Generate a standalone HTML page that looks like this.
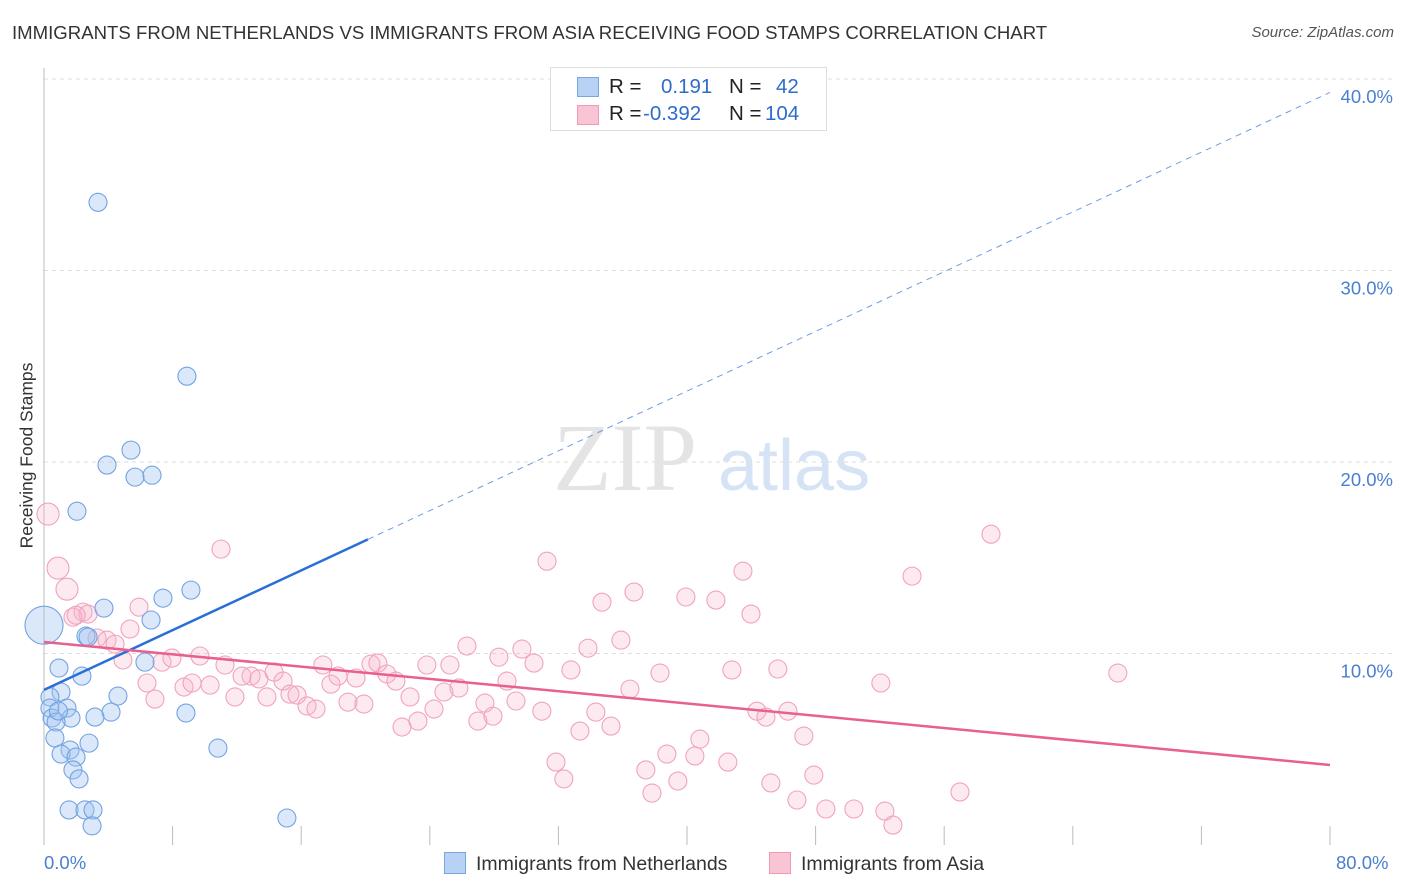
<!DOCTYPE html>
<html><head><meta charset="utf-8">
<style>
body{margin:0;background:#fff;font-family:"Liberation Sans",sans-serif;}
#wrap{position:relative;width:1406px;height:892px;overflow:hidden;}
.title{position:absolute;left:12px;top:22px;font-size:18.6px;color:#333;white-space:nowrap;}
.source{position:absolute;right:12px;top:24px;font-size:15px;color:#555;font-style:italic;}
</style></head><body>
<div id="wrap">
<div class="title">IMMIGRANTS FROM NETHERLANDS VS IMMIGRANTS FROM ASIA RECEIVING FOOD STAMPS CORRELATION CHART</div>
<div class="source">Source: ZipAtlas.com</div>
<svg id="svg" width="1406" height="892" style="position:absolute;left:0;top:0"></svg>
</div>
<script>
const blueX=[3.36,8.89,5.41,3.92,5.66,6.72,2.05,9.14,7.40,3.73,6.66,2.61,2.74,6.28,0.93,2.36,0,1.06,0.37,4.60,4.17,8.83,0.37,1.43,0.5,1.68,3.17,0.75,0.68,2.80,1.62,1.06,1.99,1.80,2.18,10.82,1.56,2.55,3.05,2.99,15.11,0.9];
const blueY=[33.56,24.48,20.62,19.84,19.21,19.31,17.43,13.31,12.89,12.37,11.75,10.91,10.86,9.55,9.24,8.82,11.48,7.99,7.73,7.78,6.94,6.89,7.15,7.15,6.63,6.63,6.68,6.42,5.59,5.32,4.96,4.75,4.59,3.92,3.45,5.06,1.83,1.83,1.83,1.00,1.41,7.0];
const pinkX=[0.25,0.87,1.43,2.43,2.74,1.80,5.91,11.01,3.30,3.92,5.35,4.42,4.91,9.70,7.34,7.96,6.41,6.90,8.71,9.21,10.33,11.26,11.88,12.32,12.88,13.37,13.87,14.31,14.87,15.30,15.74,16.36,16.92,17.35,17.85,18.29,18.91,19.41,19.90,20.34,20.77,21.33,21.89,22.27,22.77,23.26,23.82,24.26,24.88,25.25,25.81,26.31,26.99,27.43,27.93,28.30,28.80,29.36,29.73,30.48,30.97,31.29,31.85,32.34,32.78,33.34,33.84,34.33,34.71,35.27,35.89,36.45,36.70,37.44,37.82,38.32,38.75,39.43,39.93,40.80,40.49,41.80,42.54,42.79,43.48,43.98,44.35,44.91,45.22,45.65,46.28,46.84,47.27,47.89,48.64,50.38,52.06,52.31,52.81,54.00,56.98,58.91,66.80,2.0];
const pinkY=[17.28,14.46,13.36,12.16,12.06,11.90,12.42,15.45,10.81,10.70,11.28,10.49,9.66,9.87,9.55,9.76,8.46,7.62,8.25,8.46,8.35,9.40,7.73,8.82,8.82,8.67,7.73,9.03,8.56,7.88,7.83,7.26,7.10,9.40,8.40,8.82,7.46,8.72,7.36,9.45,9.50,8.93,8.56,6.16,7.73,6.47,9.40,7.10,7.99,9.40,8.20,10.39,6.47,7.41,6.73,9.81,8.56,7.52,10.23,9.50,6.99,14.82,4.33,3.45,9.14,5.95,10.28,6.94,12.68,6.21,10.70,8.14,13.21,3.92,2.71,8.98,4.75,3.34,12.95,5.53,4.65,12.79,4.33,9.14,14.30,12.06,6.99,6.68,3.24,9.19,6.99,2.35,5.69,3.65,1.88,1.88,8.46,1.77,1.04,14.04,2.77,16.23,8.98,12.0];
const yTicks=[10,20,30,40];
const yTickLabels=["10.0%","20.0%","30.0%","40.0%"];
const xTicks=[0,8,16,24,32,40,48,56,64,72,80];
const blueTrend=[8.1,39.3];
const pinkTrend=[10.6,4.18];
const blueSolidEnd=20.15;

const X=v=>44+v/80*1286, Y=v=>845-v*19.15;
const svg=document.getElementById('svg'), NS='http://www.w3.org/2000/svg';
function mk(t,a,p){const e=document.createElementNS(NS,t);for(const k in a)e.setAttribute(k,a[k]);(p||svg).appendChild(e);return e;}
yTicks.forEach((t,i)=>{
  const g=mk('line',{x1:44,x2:1392,y1:Y(t),y2:Y(t),stroke:'#ddd','stroke-dasharray':'4,4'});
  
  
  const l=mk('text',{x:1393,y:Y(t)+24,'text-anchor':'end','font-size':18.5,fill:'#4a7fd0','font-family':'Liberation Sans'});
  l.textContent=yTickLabels[i];
  
  
});
const ax=mk('line',{x1:44,x2:44,y1:68,y2:845,stroke:'#bbb'});


xTicks.forEach(t=>{
  const k=mk('line',{x1:X(t),x2:X(t),y1:826,y2:845,stroke:'#bbb'});
  
  
});
const wm=mk('text',{x:553,y:490,'font-size':96,fill:'#e4e4e4','font-family':'Liberation Serif'});wm.textContent='ZIP';


const wm2=mk('text',{x:718,y:490,'font-size':72,fill:'#d6e3f5','font-family':'Liberation Sans'});wm2.textContent='atlas';


function pts(xs,ys,fill,stroke,name,big){
  xs.forEach((x,i)=>{
    const r=big[i]||9;
    const c=mk('circle',{cx:X(x),cy:Y(ys[i]),r:r,fill:fill,stroke:stroke,'stroke-width':1.1});
    
    
  });
}
pts(pinkX,pinkY,'rgba(248,180,200,0.28)','#f0a3bc','pink-point',{0:11,1:11,2:11});
pts(blueX,blueY,'rgba(160,195,240,0.38)','#73a3e2','blue-point',{16:19});
const bl=mk('line',{x1:X(0),y1:Y(blueTrend[0]),x2:X(blueSolidEnd),y2:Y(blueTrend[0]+(blueTrend[1]-blueTrend[0])*blueSolidEnd/80),stroke:'#2a6fd6','stroke-width':2.5});


const bd=mk('line',{x1:X(blueSolidEnd),y1:Y(blueTrend[0]+(blueTrend[1]-blueTrend[0])*blueSolidEnd/80),x2:X(80),y2:Y(blueTrend[1]),stroke:'#6b9ee0','stroke-width':1,'stroke-dasharray':'6,5'});


const pl=mk('line',{x1:X(0),y1:Y(pinkTrend[0]),x2:X(80),y2:Y(pinkTrend[1]),stroke:'#e8608c','stroke-width':2.5});


</script>
<div style="position:absolute;left:44px;top:852px;font-size:18.5px;color:#4a7fd0">0.0%</div>
<div style="position:absolute;left:1336px;top:852px;font-size:18.5px;color:#4a7fd0">80.0%</div>
<div style="position:absolute;left:-103px;top:445px;width:260px;transform:rotate(-90deg);font-size:17.5px;color:#333;text-align:center;white-space:nowrap">Receiving Food Stamps</div>
<div style="position:absolute;left:550px;top:67px;width:275px;height:62px;border:1px solid #ddd;background:#fff;font-size:20.5px;color:#222">
 <div style="position:absolute;left:26px;top:9px;width:20px;height:18px;background:#b8d2f5;border:1px solid #7aa6e0"></div>
 <div style="position:absolute;left:26px;top:37px;width:20px;height:18px;background:#f9c5d5;border:1px solid #ee9ab5"></div>
 <div style="position:absolute;left:58px;top:7px">R =</div><div style="position:absolute;left:110px;top:7px;color:#2d6ccc">0.191</div>
 <div style="position:absolute;left:178px;top:7px">N =</div><div style="position:absolute;left:225px;top:7px;color:#2d6ccc">42</div>
 <div style="position:absolute;left:58px;top:34px">R =</div><div style="position:absolute;left:92px;top:34px;color:#2d6ccc">-0.392</div>
 <div style="position:absolute;left:178px;top:34px">N =</div><div style="position:absolute;left:214px;top:34px;color:#2d6ccc">104</div>
</div>
<div style="position:absolute;left:444px;top:852px;font-size:19.5px;color:#333">
 <span style="position:absolute;left:0;top:0;white-space:nowrap"><span style="display:inline-block;width:20px;height:20px;background:#b8d2f5;border:1px solid #7aa6e0;vertical-align:-4px;margin-right:10px"></span>Immigrants from Netherlands</span>
 <span style="position:absolute;left:325px;top:0;white-space:nowrap"><span style="display:inline-block;width:20px;height:20px;background:#f9c5d5;border:1px solid #ee9ab5;vertical-align:-4px;margin-right:10px"></span>Immigrants from Asia</span>
</div>
</body></html>
